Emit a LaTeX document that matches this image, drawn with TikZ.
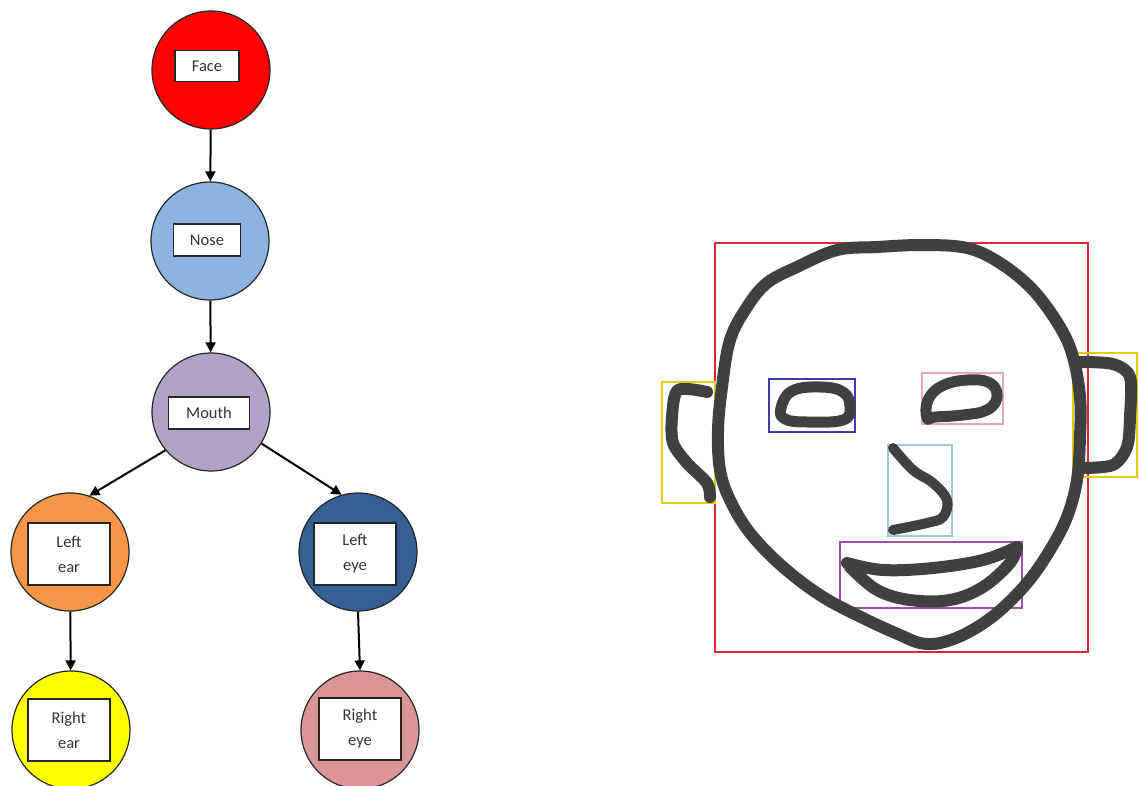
\documentclass[tikz,border=0pt]{standalone}
\usepackage{fontspec}
\setmainfont{Carlito}
\usetikzlibrary{arrows.meta}
\definecolor{facered}{HTML}{FF0000}
\definecolor{noseblue}{HTML}{8DB3E2}
\definecolor{mouthlilac}{HTML}{B2A2C7}
\definecolor{earorange}{HTML}{F79646}
\definecolor{eyenavy}{HTML}{366092}
\definecolor{earyellow}{HTML}{FFFF00}
\definecolor{eyepink}{HTML}{D99694}
\definecolor{ink}{HTML}{404040}
\definecolor{boxred}{HTML}{DC2830}
\definecolor{boxgold}{HTML}{E6CC10}
\definecolor{boxblue}{HTML}{3C3CB4}
\definecolor{boxpink}{HTML}{E8A8BC}
\definecolor{boxsky}{HTML}{9CCCDC}
\definecolor{boxplum}{HTML}{A050AA}
\begin{document}
\begin{tikzpicture}[x=1pt,y=-1pt,
  part/.style={circle,draw=black!85,line width=1.2pt,minimum size=118pt,inner sep=0pt},
  tag/.style={draw=black!85,fill=white,line width=1.2pt,inner sep=0pt,align=center,
    font=\fontsize{16.5}{25}\selectfont,text=black!80},
  onetag/.style={tag,minimum height=32pt},
  twotag/.style={tag,minimum width=82pt,minimum height=62pt},
  link/.style={line width=2pt,-{Triangle[length=10pt,width=10pt]}},
  pen/.style={line width=12pt,draw=ink,line cap=round,line join=round},
  frame/.style={line width=2.8pt}]
\useasboundingbox (0,0) rectangle (1139,786);
\clip (0,0) rectangle (1139,786);

% ---- hierarchy of face parts ----
\node[part,fill=facered]    (face) at (211,70)  {};
\node[part,fill=noseblue]   (nose) at (210,241) {};
\node[part,fill=mouthlilac] (mouth) at (211,412) {};
\node[part,fill=earorange]  (lear) at (70,552)  {};
\node[part,fill=eyenavy]    (leye) at (358,552) {};
\node[part,fill=earyellow]  (rear) at (71,730)  {};
\node[part,fill=eyepink]    (reye) at (360,730) {};

\node[onetag,minimum width=64pt,minimum height=31pt] (faceT) at (207,66) {Face};
\node[onetag,minimum width=67pt] (noseT) at (207,240) {Nose};
\node[onetag,minimum width=81pt] (mouthT) at (209,413) {Mouth};
\node[twotag] (learT) at (69,554) {Left\\ear};
\node[twotag] (leyeT) at (355,554) {Left\\eye};
\node[twotag] (rearT) at (69,730) {Right\\ear};
\node[twotag] (reyeT) at (360,729) {Right\\eye};

\draw[link] (face) -- (nose);
\draw[link] (nose) -- (mouth);
\draw[link] (mouth.220) -- (lear.71);
\draw[link] (mouth.328) -- (leye.106);
\draw[link] (lear) -- (rear);
\draw[link] (leye.south) -- (reye.north);

% ---- annotated sketch: bounding boxes ----
\draw[frame,boxred]  (715,243) rectangle (1088,652);
\draw[frame,boxgold] (662,382) rectangle (715,503);
\draw[frame,boxgold] (1073,353) rectangle (1137,477);
\draw[frame,boxblue] (769,379) rectangle (855,432);
\draw[frame,boxpink] (922,373) rectangle (1003,424);
\draw[frame,boxsky]  (888,445) rectangle (952,536);
\draw[frame,boxplum] (840,542) rectangle (1022,608);

% ---- annotated sketch: pen strokes ----
% head outline
\draw[pen] plot[smooth cycle,tension=0.6] coordinates {
  (923,245) (967,248) (1000,263) (1033,290) (1060,327) (1073,357)
  (1080,397) (1080,437) (1077,480) (1067,517) (1050,550) (1027,583)
  (997,613) (967,633) (940,643) (920,643) (900,635) (867,620)
  (823,597) (783,567) (750,533) (730,500) (720,470) (718,430)
  (722,387) (730,340) (747,307) (767,283) (797,267) (837,250) (877,247)};
% left ear
\draw[pen] plot[smooth,tension=0.5] coordinates {
  (707,392) (678,390) (672,417) (673,443) (687,463) (707,483) (710,497)};
% right ear
\draw[pen] plot[smooth,tension=0.5] coordinates {
  (1080,362) (1113,364) (1130,377) (1130,417) (1127,447) (1113,465) (1083,468)};
% eyes
\draw[pen,line width=11pt] plot[smooth cycle,tension=0.7] coordinates {
  (781,408) (792,391) (820,387) (843,392) (850,407) (843,420) (807,422) (785,419)};
\draw[pen,line width=11pt] plot[smooth cycle,tension=0.7] coordinates {
  (927,418) (928,400) (942,386) (967,380) (990,383) (997,397) (987,410) (963,415) (935,417)};
% nose
\draw[pen,line width=10pt] plot[smooth,tension=0.6] coordinates {
  (893,448) (913,470) (933,483) (947,500) (943,517) (927,523) (893,530)};
% mouth
\draw[pen] plot[smooth,tension=0.6] coordinates {
  (847,563) (883,570) (933,568) (983,560) (1017,547)};
\draw[pen] plot[smooth,tension=0.6] coordinates {
  (850,567) (877,590) (910,600) (950,600) (983,587) (1010,563) (1017,547)};
\end{tikzpicture}
\end{document}
